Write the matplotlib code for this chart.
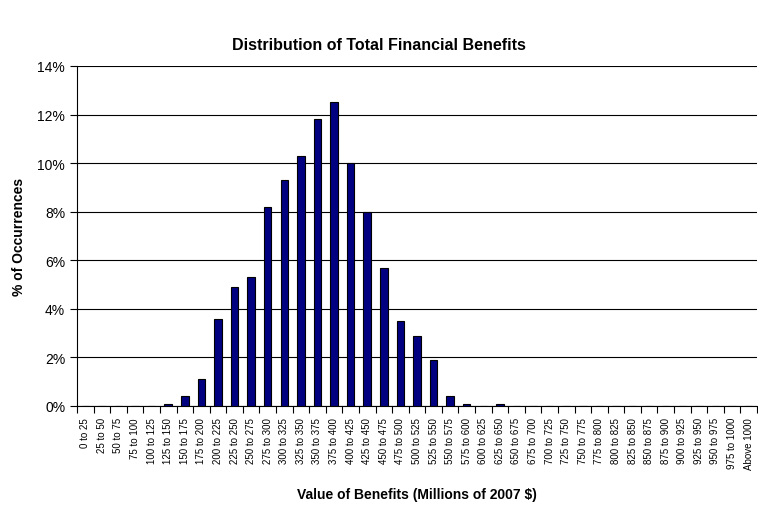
import numpy as np
import matplotlib.pyplot as plt
from matplotlib.ticker import FixedLocator, PercentFormatter

plt.rcParams['font.family'] = ['Liberation Sans', 'DejaVu Sans']

# benefit bins, millions of 2007 $
bins = [f'{lo} to {lo + 25}' for lo in range(0, 1000, 25)] + ['Above 1000']

# % of occurrences per bin
occurrences = [0, 0, 0, 0, 0, 0.1, 0.4, 1.1, 3.6, 4.9,
               5.3, 8.2, 9.3, 10.3, 11.8, 12.5, 10.0, 8.0, 5.7, 3.5,
               2.9, 1.9, 0.4, 0.1, 0, 0.1, 0, 0, 0, 0,
               0, 0, 0, 0, 0, 0, 0, 0, 0, 0, 0]

fig = plt.figure(figsize=(7.58, 5.06), dpi=100)
ax = fig.add_axes([0.1016, 0.1957, 0.897, 0.672])

x = np.arange(len(bins))
ax.set_axisbelow(True)
ax.yaxis.grid(True, color='black', linewidth=0.8)
ax.bar(x, occurrences, width=0.45, color='#000080', edgecolor='black', linewidth=0.8, zorder=3)

ax.set_xlim(-0.5, len(bins) - 0.5)
ax.set_ylim(0, 14)
ax.set_yticks(np.arange(0, 15, 2))
ax.yaxis.set_major_formatter(PercentFormatter(decimals=0))
ax.tick_params(axis='y', labelsize=10, length=5, width=0.8)

ax.set_xticks(x)
ax.set_xticklabels(bins, rotation=90, fontsize=7)
ax.tick_params(axis='x', which='major', length=0, pad=8)
ax.xaxis.set_minor_locator(FixedLocator(np.arange(-0.5, len(bins), 1)))
ax.tick_params(axis='x', which='minor', length=5, width=0.8)

for side in ['top', 'right']:
    ax.spines[side].set_visible(False)
for side in ['left', 'bottom']:
    ax.spines[side].set_linewidth(0.8)

ax.set_xlabel('Value of Benefits (Millions of 2007 $)', fontsize=10, fontweight='bold', labelpad=13)
ax.set_ylabel('% of Occurrences', fontsize=10, fontweight='bold', labelpad=8)
fig.suptitle('Distribution of Total Financial Benefits', x=0.5, y=0.925, fontsize=11.5, fontweight='bold')

fig.savefig('out.png', dpi=100)
